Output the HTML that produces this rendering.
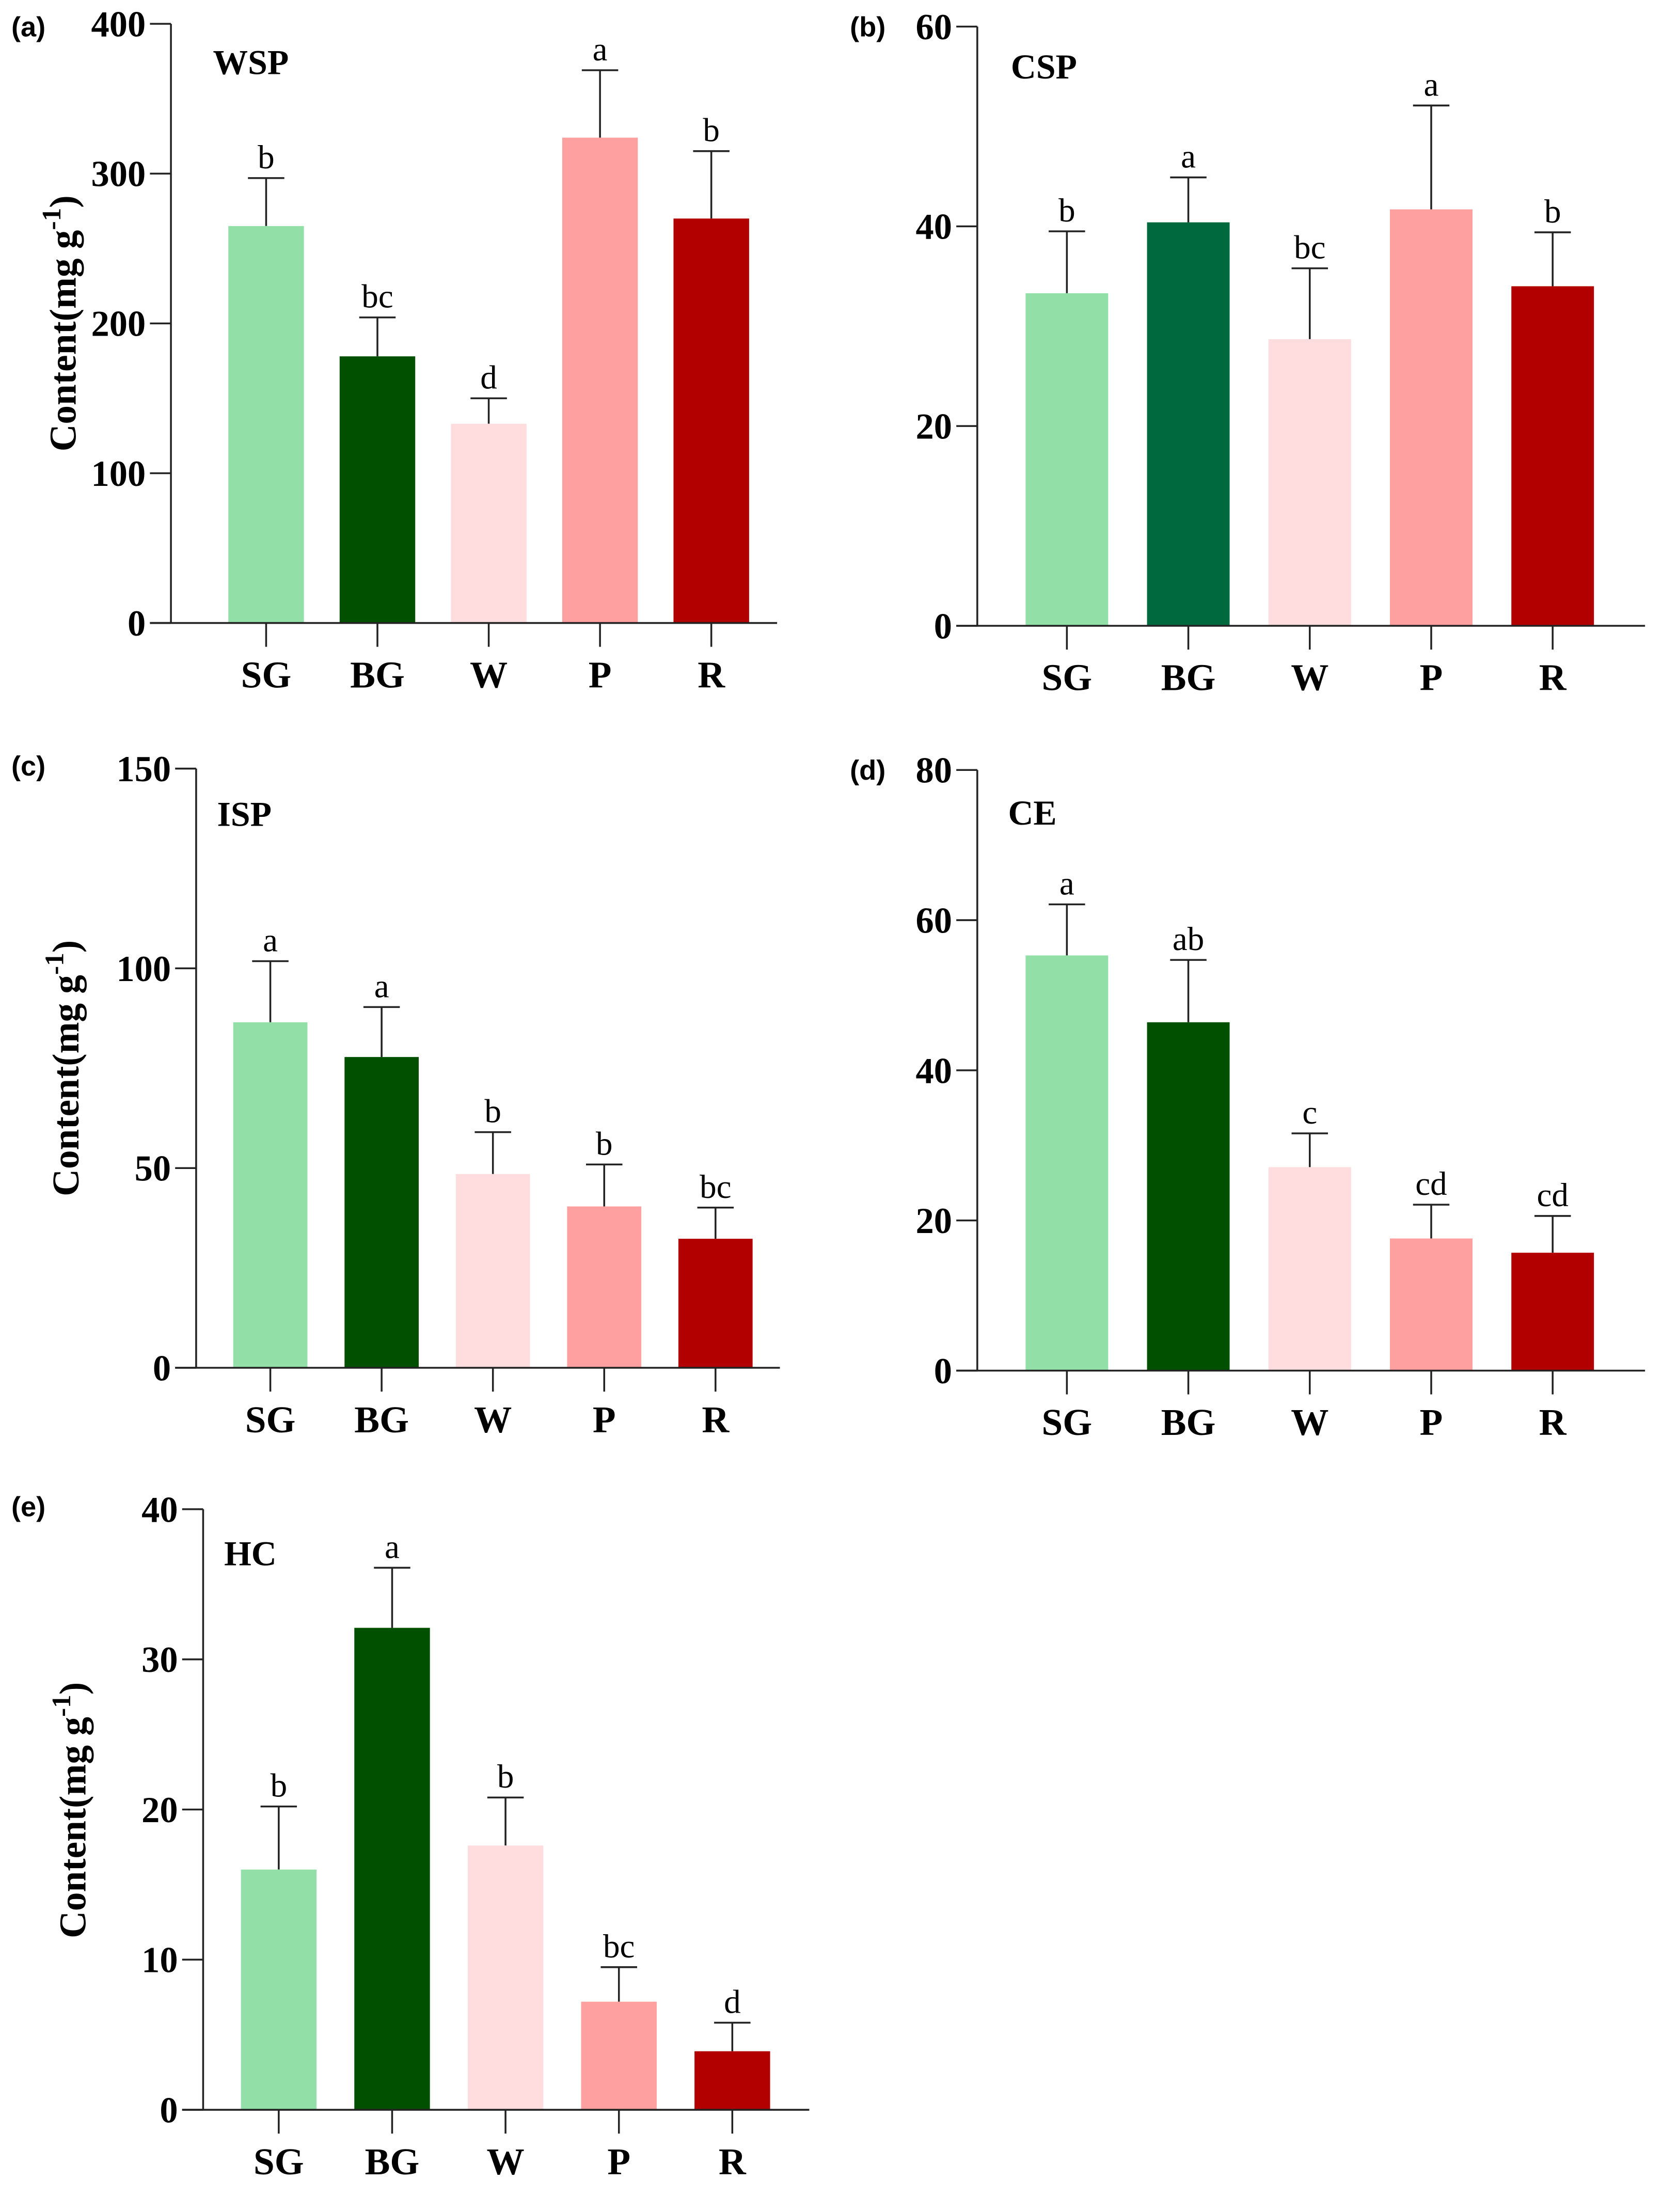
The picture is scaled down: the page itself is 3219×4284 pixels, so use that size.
<!DOCTYPE html>
<html><head><meta charset="utf-8"><style>
html,body{margin:0;padding:0;background:#fff;}
svg{display:block;}
</style></head><body>
<svg id="fig" width="3219" height="4284" viewBox="0 0 1187 1580" xmlns="http://www.w3.org/2000/svg" font-family="'Liberation Serif', serif"></svg>
<script>
const categories = ["SG","BG","W","P","R"];
const wspValues = [265,178,133,324,270];
const wspErrors = [297,204,150,369,315];
const wspLetters = ["b","bc","d","a","b"];
const wspTicks = [0,100,200,300,400];
const cspValues = [33.3,40.4,28.7,41.7,34.0];
const cspErrors = [39.5,44.9,35.8,52.1,39.4];
const cspLetters = ["b","a","bc","a","b"];
const cspTicks = [0,20,40,60];
const ispValues = [86.5,77.8,48.5,40.4,32.3];
const ispErrors = [101.8,90.3,59.0,50.9,40.1];
const ispLetters = ["a","a","b","b","bc"];
const ispTicks = [0,50,100,150];
const ceValues = [55.3,46.4,27.1,17.6,15.7];
const ceErrors = [62.1,54.7,31.6,22.1,20.6];
const ceLetters = ["a","ab","c","cd","cd"];
const ceTicks = [0,20,40,60,80];
const hcValues = [16.0,32.1,17.6,7.2,3.9];
const hcErrors = [20.2,36.1,20.8,9.5,5.8];
const hcLetters = ["b","a","b","bc","d"];
const hcTicks = [0,10,20,30,40];

const NS="http://www.w3.org/2000/svg";
const svg=document.getElementById('fig');
function mk(tag,attrs,parent,text){const e=document.createElementNS(NS,tag);for(const k in attrs)e.setAttribute(k,attrs[k]);if(text!==undefined)e.textContent=text;parent.appendChild(e);return e;}

const panels=[
 {id:'a',title:'WSP',vals:wspValues,errs:wspErrors,lets:wspLetters,ticks:wspTicks,ax:122,y0:445,yt:17,xend:555,x0:190,step:79.5,bw:54,tx:152,ty:53,lx:8,ly:26,bg:'#005000',ylab:true,ylx:54,yly:231},
 {id:'b',title:'CSP',vals:cspValues,errs:cspErrors,lets:cspLetters,ticks:cspTicks,ax:698,y0:447,yt:19,xend:1175,x0:762,step:86.75,bw:59,tx:722,ty:56,lx:607,ly:26,bg:'#006a3e',ylab:false},
 {id:'c',title:'ISP',vals:ispValues,errs:ispErrors,lets:ispLetters,ticks:ispTicks,ax:140,y0:977,yt:549,xend:557,x0:193,step:79.5,bw:53,tx:155,ty:590,lx:8,ly:554,bg:'#005000',ylab:true,ylx:56,yly:763},
 {id:'d',title:'CE',vals:ceValues,errs:ceErrors,lets:ceLetters,ticks:ceTicks,ax:698,y0:979,yt:550,xend:1175,x0:762,step:86.75,bw:59,tx:720,ty:589,lx:607,ly:557,bg:'#005000',ylab:false},
 {id:'e',title:'HC',vals:hcValues,errs:hcErrors,lets:hcLetters,ticks:hcTicks,ax:145,y0:1507,yt:1078,xend:578,x0:199,step:81,bw:54,tx:160,ty:1118,lx:8,ly:1083,bg:'#005000',ylab:true,ylx:61,yly:1293}
];
const colors=['#93dfa8',null,'#ffdcdd','#ffa0a0','#b20000'];

panels.forEach(p=>{
 const g=mk('g',{},svg);
 
 
 const tmax=p.ticks[p.ticks.length-1];
 const y=v=>p.y0-(v/tmax)*(p.y0-p.yt);
 const x=i=>p.x0+i*p.step;
 const lbl=mk('text',{x:p.lx,y:p.ly,'font-family':"'Liberation Sans', sans-serif",'font-weight':'bold','font-size':20},g,'('+p.id+')');
 
 
 const t=mk('text',{x:p.tx,y:p.ty,'font-weight':'bold','font-size':25},g,p.title);
 
 
 p.vals.forEach((v,i)=>{
  const c=i===1?p.bg:colors[i];
  const ex=x(i);
  const el=mk('line',{x1:ex,x2:ex,y1:y(v),y2:y(p.errs[i]),stroke:'#222','stroke-width':1.3},g);
  
  
  mk('line',{x1:ex-13,x2:ex+13,y1:y(p.errs[i]),y2:y(p.errs[i]),stroke:'#222','stroke-width':1.3},g);
  const r=mk('rect',{x:ex-p.bw/2,y:y(v),width:p.bw,height:p.y0-y(v),fill:c},g);
  
  
  const lt=mk('text',{x:ex,y:y(p.errs[i])-7,'text-anchor':'middle','font-size':24},g,p.lets[i]);
  
  
  mk('line',{x1:ex,x2:ex,y1:p.y0,y2:p.y0+17,stroke:'#222','stroke-width':1.3},g);
  const cl=mk('text',{x:ex,y:p.y0+46,'text-anchor':'middle','font-weight':'bold','font-size':27},g,categories[i]);
  
  
 });
 const ya=mk('line',{x1:p.ax,x2:p.ax,y1:p.yt,y2:p.y0,stroke:'#222','stroke-width':1.3},g);
 
 
 const xa=mk('line',{x1:p.ax-15,x2:p.xend,y1:p.y0,y2:p.y0,stroke:'#222','stroke-width':1.3},g);
 
 
 p.ticks.forEach(tv=>{
  mk('line',{x1:p.ax-15,x2:p.ax,y1:y(tv),y2:y(tv),stroke:'#222','stroke-width':1.3},g);
  const tl=mk('text',{x:p.ax-18,y:y(tv)+9,'text-anchor':'end','font-weight':'bold','font-size':26},g,String(tv));
  
  
 });
 if(p.ylab){
  const yl=mk('text',{x:0,y:0,transform:`translate(${p.ylx},${p.yly}) rotate(-90)`,'text-anchor':'middle','font-weight':'bold','font-size':27},g);
  
  
  mk('tspan',{},yl,'Content(mg g');
  mk('tspan',{dy:-11,'font-size':19},yl,'-1');
  mk('tspan',{dy:11},yl,')');
 }
});
</script>
</body></html>
